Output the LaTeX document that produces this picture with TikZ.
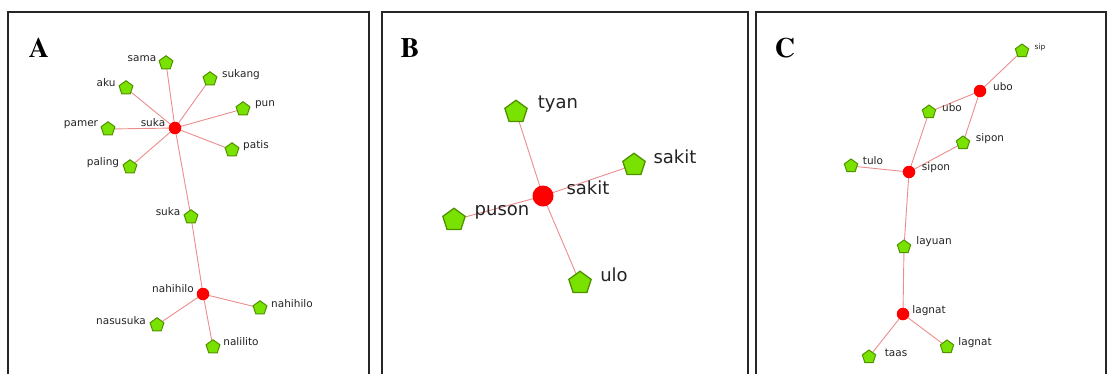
\documentclass[tikz,border=0pt]{standalone}
\usepackage{fontspec}
\setmainfont{TeX Gyre Termes}
\newfontfamily\netfont{DejaVu Sans}
\usetikzlibrary{shapes.geometric,backgrounds}
\definecolor{leaf}{RGB}{122,226,0}
\definecolor{leafedge}{RGB}{80,145,0}
\definecolor{hubred}{RGB}{255,0,0}
\definecolor{link}{RGB}{236,140,140}
\definecolor{txt}{RGB}{35,35,35}
\tikzset{
  leafA/.style={regular polygon, regular polygon sides=5, fill=leaf, draw=leafedge, line width=1pt, inner sep=0pt, minimum size=14.5pt},
  leafB/.style={leafA, minimum size=23.5pt, line width=1.3pt},
  leafS/.style={leafA, minimum size=14pt},
  hubA/.style={circle, fill=hubred, inner sep=0pt, minimum size=12.5pt},
  hubB/.style={hubA, minimum size=21pt},
  lblA/.style={font=\netfont\fontsize{10.5}{12}\selectfont, text=txt, inner sep=0pt},
  lblB/.style={font=\netfont\fontsize{18}{20}\selectfont, text=txt, inner sep=0pt},
  lblS/.style={font=\netfont\fontsize{7.5}{8}\selectfont, text=txt, inner sep=0pt},
  edge/.style={draw=link, line width=0.9pt},
  panel/.style={draw=black!85, line width=1.8pt},
  tag/.style={font=\fontsize{28}{30}\selectfont\bfseries, inner sep=0pt}
}
\begin{document}
\begin{tikzpicture}[x=1pt, y=-1pt]
\useasboundingbox (0,0) rectangle (1111,373);
% panel frames (open at the bottom edge)
\begin{scope}
\clip (0,0) rectangle (1111,373);
\draw[panel] (8,12) rectangle (369,380);
\draw[panel] (382,12) rectangle (748,380);
\draw[panel] (756,12) rectangle (1106,380);
\end{scope}
\node[tag] (tA) at (39,48) {A};
\node[tag] (tB) at (410,48) {B};
\node[tag] (tC) at (785,48) {C};

% ---------- network A ----------
\node[hubA] (a0) at (175,128) {};
\node[hubA] (a1) at (203,294) {};
\node[leafA] (as) at (166,63) {};
\node[leafA] (aa) at (126,88) {};
\node[leafA] (ak) at (210,79) {};
\node[leafA] (ap) at (243,109) {};
\node[leafA] (am) at (108,129) {};
\node[leafA] (at) at (232,150) {};
\node[leafA] (al) at (130,167) {};
\node[leafA] (au) at (191,217) {};
\node[leafA] (ah) at (260,308) {};
\node[leafA] (an) at (157,325) {};
\node[leafA] (ai) at (213,347) {};
\node[lblA] (la0) at (153,123) {suka};
\node[lblA] (la1) at (173,289) {nahihilo};
\node[lblA] (las) at (142,59) {sama};
\node[lblA] (laa) at (106,83) {aku};
\node[lblA] (lak) at (241,75) {sukang};
\node[lblA] (lap) at (265,105) {pun};
\node[lblA] (lam) at (81,125) {pamer};
\node[lblA] (lat) at (256,146) {patis};
\node[lblA] (lal) at (103,163) {paling};
\node[lblA] (lau) at (168,212) {suka};
\node[lblA] (lah) at (292,304) {nahihilo};
\node[lblA] (lan) at (121,321) {nasusuka};
\node[lblA] (lai) at (241,342) {nalilito};

% ---------- network B ----------
\node[hubB] (b0) at (543,196) {};
\node[leafB] (bt) at (516,112) {};
\node[leafB] (bs) at (634,165) {};
\node[leafB] (bp) at (454,220) {};
\node[leafB] (bu) at (580,283) {};
\node[lblB] (lb0) at (588,188) {sakit};
\node[lblB] (lbt) at (558,104) {tyan};
\node[lblB] (lbs) at (675,157) {sakit};
\node[lblB] (lbp) at (502,212) {puson};
\node[lblB] (lbu) at (614,275) {ulo};

% ---------- network C ----------
\node[hubA] (c0) at (980,91) {};
\node[hubA] (c1) at (909,172) {};
\node[hubA] (c2) at (903,314) {};
\node[leafS] (cs) at (1022,51) {};
\node[leafS] (cu) at (929,112) {};
\node[leafS] (cp) at (963,143) {};
\node[leafS] (ct) at (851,166) {};
\node[leafS] (cl) at (904,247) {};
\node[leafS] (cg) at (947,347) {};
\node[leafS] (ca) at (869,357) {};
\node[lblS] (lcs) at (1040,47) {sip};
\node[lblA] (lc0) at (1003,87) {ubo};
\node[lblA] (lcu) at (952,108) {ubo};
\node[lblA] (lcp) at (990,139) {sipon};
\node[lblA] (lc1) at (936,168) {sipon};
\node[lblA] (lct) at (873,161) {tulo};
\node[lblA] (lcl) at (934,242) {layuan};
\node[lblA] (lc2) at (929,311) {lagnat};
\node[lblA] (lcg) at (975,343) {lagnat};
\node[lblA] (lca) at (896,353) {taas};

% ---------- links, drawn behind the nodes ----------
\begin{scope}[on background layer]
\foreach \n in {as,aa,ak,ap,am,at,al,au}
  \draw[edge] (a0.center) -- (\n.center);
\draw[edge] (au.center) -- (a1.center);
\foreach \n in {ah,an,ai}
  \draw[edge] (a1.center) -- (\n.center);
\foreach \n in {bt,bs,bp,bu}
  \draw[edge] (b0.center) -- (\n.center);
\draw[edge] (cs.center) -- (c0.center);
\draw[edge] (c0.center) -- (cu.center);
\draw[edge] (c0.center) -- (cp.center);
\draw[edge] (cu.center) -- (c1.center);
\draw[edge] (cp.center) -- (c1.center);
\draw[edge] (ct.center) -- (c1.center);
\draw[edge] (c1.center) -- (cl.center);
\draw[edge] (cl.center) -- (c2.center);
\draw[edge] (c2.center) -- (cg.center);
\draw[edge] (c2.center) -- (ca.center);
\end{scope}
\end{tikzpicture}
\end{document}
